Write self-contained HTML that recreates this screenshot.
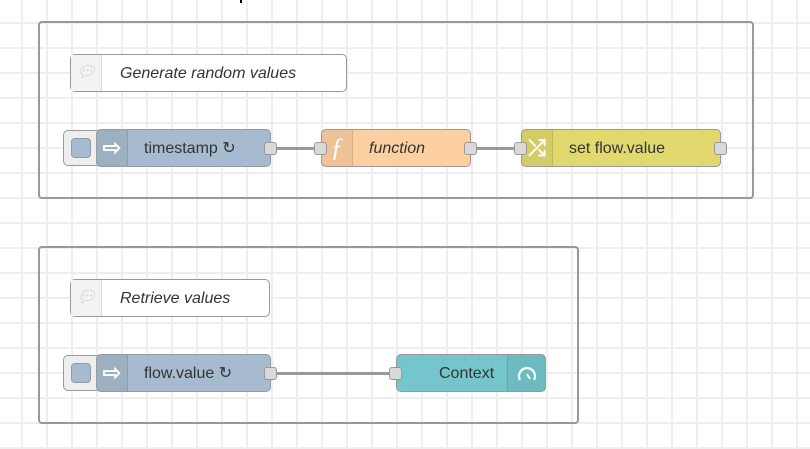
<!DOCTYPE html>
<html><head><style>
body{margin:0;width:810px;height:449px;overflow:hidden;background:#fff;
background-image:linear-gradient(to right,#eee 2px,transparent 2px),linear-gradient(to bottom,#eee 2px,transparent 2px);
background-size:25px 25px;background-position:21px 22px;font-family:"Liberation Sans",sans-serif;position:relative}
.abs{position:absolute;box-sizing:border-box}
.grp{border:2px solid #999;border-radius:4px;background:transparent}
.node{border:1px solid #999;border-radius:5px;height:38px;font-size:16px;color:#333;line-height:38px}
.ic{position:absolute;top:0;bottom:0;width:30px;background:rgba(0,0,0,0.06);border-right:1px solid rgba(0,0,0,0.1);color:#fff;text-align:center;font-size:22px;line-height:36px;font-weight:bold}
.port{position:absolute;width:13px;height:13px;background:#d9d9d9;border:1px solid #999;border-radius:3px;box-sizing:border-box}
.wire{position:absolute;height:3px;background:#999}
.btn{border:1px solid #999;border-radius:5px;background:#eee;width:38px;height:36px}
.btn div{position:absolute;left:7px;top:7px;width:20px;height:20px;background:#a6bbcf;border:1px solid #999;border-radius:4px;box-sizing:border-box}
</style></head><body>
<div class="abs" style="left:240px;top:0;width:2px;height:3px;background:#000"></div>
<div class="abs grp" style="left:38px;top:21px;width:716px;height:178px"></div>
<div class="abs grp" style="left:38px;top:246px;width:541px;height:178px"></div>

<div class="abs node" style="left:70px;top:54px;width:277px;background:#fff;font-style:italic">
<div class="ic" style="left:0;background:#f3f3f3;color:#ccc;font-size:16px;font-weight:normal">💬︎</div>
<span style="position:absolute;left:49px">Generate random values</span></div>
<div class="abs node" style="left:70px;top:279px;width:200px;background:#fff;font-style:italic">
<div class="ic" style="left:0;background:#f3f3f3;color:#ccc;font-size:16px;font-weight:normal">💬︎</div>
<span style="position:absolute;left:49px">Retrieve values</span></div>

<div class="wire" style="left:275px;top:147px;width:45px"></div>
<div class="wire" style="left:475px;top:147px;width:45px"></div>
<div class="wire" style="left:275px;top:372px;width:120px"></div>

<div class="abs btn" style="left:63px;top:130px"><div></div></div>
<div class="abs node" style="left:96px;top:129px;width:175px;background:#a6bbcf">
<div class="ic" style="left:0">⇨</div><span style="position:absolute;left:47px">timestamp ↻</span></div>
<div class="port" style="left:264px;top:142px"></div>

<div class="abs node" style="left:321px;top:129px;width:150px;background:#fdd0a2;font-style:italic">
<div class="ic" style="left:0;font-family:'Liberation Serif',serif;font-size:26px;font-weight:normal">ƒ</div><span style="position:absolute;left:47px">function</span></div>
<div class="port" style="left:314px;top:142px"></div>
<div class="port" style="left:464px;top:142px"></div>

<div class="abs node" style="left:521px;top:129px;width:200px;background:#e2d96e">
<div class="ic" style="left:0">⤮</div><span style="position:absolute;left:47px">set flow.value</span></div>
<div class="port" style="left:514px;top:142px"></div>
<div class="port" style="left:714px;top:142px"></div>

<div class="abs btn" style="left:63px;top:355px"><div></div></div>
<div class="abs node" style="left:96px;top:354px;width:175px;background:#a6bbcf">
<div class="ic" style="left:0">⇨</div><span style="position:absolute;left:47px">flow.value ↻</span></div>
<div class="port" style="left:264px;top:367px"></div>

<div class="abs node" style="left:396px;top:354px;width:150px;background:#74c6cc">
<span style="position:absolute;left:42px">Context</span>
<div class="ic" style="right:0;border-right:none;border-left:1px solid rgba(0,0,0,0.1);width:37px">
<svg width="22" height="22" viewBox="0 0 22 22" style="margin-top:8px"><path d="M4 17 A8 8 0 1 1 18 17" fill="none" stroke="#fff" stroke-width="2.2"/><line x1="11" y1="11" x2="14" y2="16" stroke="#fff" stroke-width="2"/></svg></div></div>
<div class="port" style="left:389px;top:367px"></div>
</body></html>
